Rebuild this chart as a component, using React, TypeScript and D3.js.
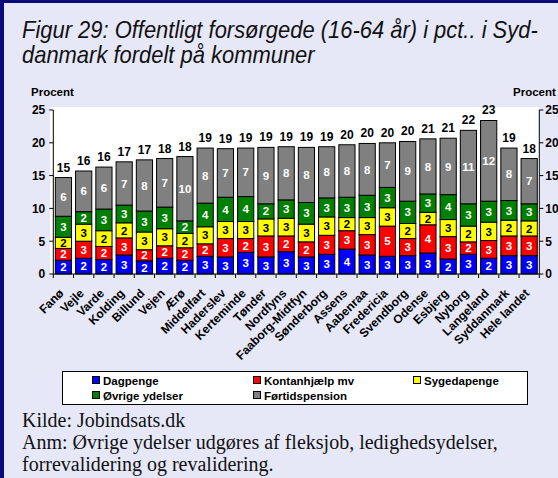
import React from 'react';
import * as d3 from 'd3';

const categories = ["Fanø","Vejle","Varde","Kolding","Billund","Vejen","Ærø","Middelfart","Haderslev","Kerteminde","Tønder","Nordfyns","Faaborg-Midtfyn","Sønderborg","Assens","Aabenraa","Fredericia","Svendborg","Odense","Esbjerg","Nyborg","Langeland","Syddanmark","Hele landet"];
const dagpenge = [2.1,2.4,2.2,2.9,2.0,2.4,2.1,2.7,2.6,3.3,2.6,3.4,2.6,3.0,3.8,2.9,2.7,2.8,3.2,2.3,3.0,2.4,2.8,2.8];
const kontanthjaelp = [1.8,2.6,2.0,2.6,1.7,1.9,1.9,1.9,2.8,2.1,3.2,2.4,2.3,2.9,2.8,3.1,4.6,2.6,4.3,3.4,1.9,2.7,3.0,3.0];
const sygedagpenge = [1.7,2.6,2.4,2.3,2.7,2.6,2.2,2.6,2.6,2.6,2.6,2.7,2.7,2.8,2.0,2.6,2.8,2.3,1.9,2.6,2.4,2.8,2.4,2.3];
const ovrige = [3.2,1.9,3.3,2.7,3.2,3.3,1.9,3.6,3.7,3.8,2.3,2.8,3.3,2.9,3.1,3.4,3.1,3.4,2.8,3.8,3.4,3.2,3.0,2.6];
const fortid = [5.9,6.2,6.4,6.6,7.8,7.4,9.8,8.4,7.4,7.4,8.6,8.1,8.4,7.8,8.0,7.9,6.8,9.1,8.4,8.6,11.2,12.3,8.0,6.9];

const seriesNames = ["Dagpenge","Kontanhjælp mv","Sygedapenge","Øvrige ydelser","Førtidspension"];
const seriesColors = ["#0000FF","#FF0000","#FFFF00","#008000","#808080"];
const labelColors = ["#FFFFFF","#FFFFFF","#000000","#FFFFFF","#FFFFFF"];
const yTicks = [0,5,10,15,20,25];

const titleLines = ["Figur 29: Offentligt forsørgede (16-64 år) i pct.. i Syd-","danmark fordelt på kommuner"];
const noteLines = ["Kilde: Jobindsats.dk","Anm: Øvrige ydelser udgøres af fleksjob, ledighedsydelser,","forrevalidering og revalidering."];

const W = 558, H = 478;
const SANS = "'Liberation Sans', Arial, sans-serif";
const SERIF = "'Liberation Serif', 'Times New Roman', serif";

export default function App() {
  const seriesData = [dagpenge, kontanthjaelp, sygedagpenge, ovrige, fortid];
  const rows = categories.map((c, i) => {
    const r: any = { cat: c };
    seriesNames.forEach((s, j) => { r[s] = seriesData[j][i]; });
    return r;
  });
  const stacked = d3.stack().keys(seriesNames)(rows);
  const totals = categories.map((_, i) => seriesData.reduce((a, s) => a + s[i], 0));

  const x0 = 53.3, x1 = 539.3, yTop = 110, yBot = 274;
  const x = d3.scaleBand().domain(categories).range([x0, x1]).paddingInner(0.2).paddingOuter(0.1);
  const y = d3.scaleLinear().domain([0, 25]).range([yBot, yTop]);
  const step = x.step();
  const boundaries = d3.range(categories.length + 1).map(i => x0 + i * step);

  const titleScale = 516 / (23.509 * 24);

  const legendCols = [92, 253, 413];
  const legendRows = [381, 396];

  return (
    <div style={{ position: 'fixed', left: 0, top: 0 }}>
      <svg width={W} height={H} style={{ display: 'block' }}>
        <rect x={0} y={0} width={W} height={H} fill="#E6E8F8" />
        <rect x={0} y={0} width={4} height={H} fill="#0A0A7A" />
        <rect x={0} y={0} width={W} height={3} fill="#0A0A7A" />
        <g transform={`translate(22,0) scale(${titleScale},1)`}>
          {titleLines.map((t, i) => (
            <text key={i} x={0} y={38 + i * 25} fontFamily={SANS} fontStyle="italic" fontSize={24} fill="#111">{t}</text>
          ))}
        </g>
        <text x={31} y={96} fontFamily={SANS} fontWeight="bold" fontSize={11.5} fill="#000">Procent</text>
        <text x={513} y={96} fontFamily={SANS} fontWeight="bold" fontSize={11.5} fill="#000">Procent</text>

        <rect x={50} y={107} width={x1 - 50} height={yBot - 107} fill="#FFFFFF" />

        {stacked.map((layer, j) => (
          <g key={j}>
            {layer.map((d, i) => (
              <rect key={i} x={x(categories[i])} y={y(d[1])} width={x.bandwidth()} height={y(d[0]) - y(d[1])}
                fill={seriesColors[j]} stroke="#000" strokeWidth={1} />
            ))}
          </g>
        ))}
        {stacked.map((layer, j) => (
          <g key={'l' + j}>
            {layer.map((d, i) => (
              <text key={i} x={(x(categories[i]) as number) + x.bandwidth() / 2} y={(y(d[0]) + y(d[1])) / 2}
                dy="0.36em" textAnchor="middle" fontFamily={SANS} fontWeight="bold" fontSize={11.5}
                fill={labelColors[j]}>{Math.round(d[1] - d[0])}</text>
            ))}
          </g>
        ))}
        {totals.map((t, i) => (
          <text key={i} x={(x(categories[i]) as number) + x.bandwidth() / 2} y={y(t) - 6}
            textAnchor="middle" fontFamily={SANS} fontWeight="bold" fontSize={12} fill="#000">{Math.round(t)}</text>
        ))}

        <line x1={x0} x2={x0} y1={yTop} y2={yBot} stroke="#000" />
        <line x1={x1} x2={x1} y1={yTop} y2={yBot} stroke="#000" />
        <line x1={x0} x2={x1} y1={yBot} y2={yBot} stroke="#000" />
        {yTicks.map(t => (
          <g key={t}>
            <line x1={x0 - 4} x2={x0} y1={y(t)} y2={y(t)} stroke="#000" />
            <line x1={x1} x2={x1 + 4} y1={y(t)} y2={y(t)} stroke="#000" />
            <text x={x0 - 8} y={y(t)} dy="0.36em" textAnchor="end" fontFamily={SANS} fontWeight="bold" fontSize={12}>{t}</text>
            <text x={x1 + 6} y={y(t)} dy="0.36em" textAnchor="start" fontFamily={SANS} fontWeight="bold" fontSize={12}>{t}</text>
          </g>
        ))}
        {boundaries.map((b, i) => (
          <line key={i} x1={b} x2={b} y1={yBot} y2={yBot + 4} stroke="#000" />
        ))}
        {categories.map((c, i) => (
          <text key={c} transform={`translate(${(x(c) as number) + x.bandwidth() / 2 + 1},${yBot + 20}) rotate(-45)`}
            textAnchor="end" fontFamily={SANS} fontWeight="bold" fontSize={12} fill="#000">{c}</text>
        ))}

        <rect x={62.5} y={371.5} width={465} height={33} fill="#FFFFFF" stroke="#000" strokeWidth={1} />
        {seriesNames.map((s, j) => {
          const cx = legendCols[j % 3];
          const cy = legendRows[Math.floor(j / 3)];
          return (
            <g key={s}>
              <rect x={cx + 0.5} y={cy - 4.5} width={7} height={7} fill={seriesColors[j]} stroke="#000" strokeWidth={1} />
              <text x={cx + 11} y={cy} dy="0.36em" fontFamily={SANS} fontWeight="bold" fontSize={11.5} fill="#000">{s}</text>
            </g>
          );
        })}

        {noteLines.map((t, i) => (
          <text key={i} x={22} y={427 + i * 22} fontFamily={SERIF} fontSize={20} fill="#111">{t}</text>
        ))}
      </svg>
    </div>
  );
}
